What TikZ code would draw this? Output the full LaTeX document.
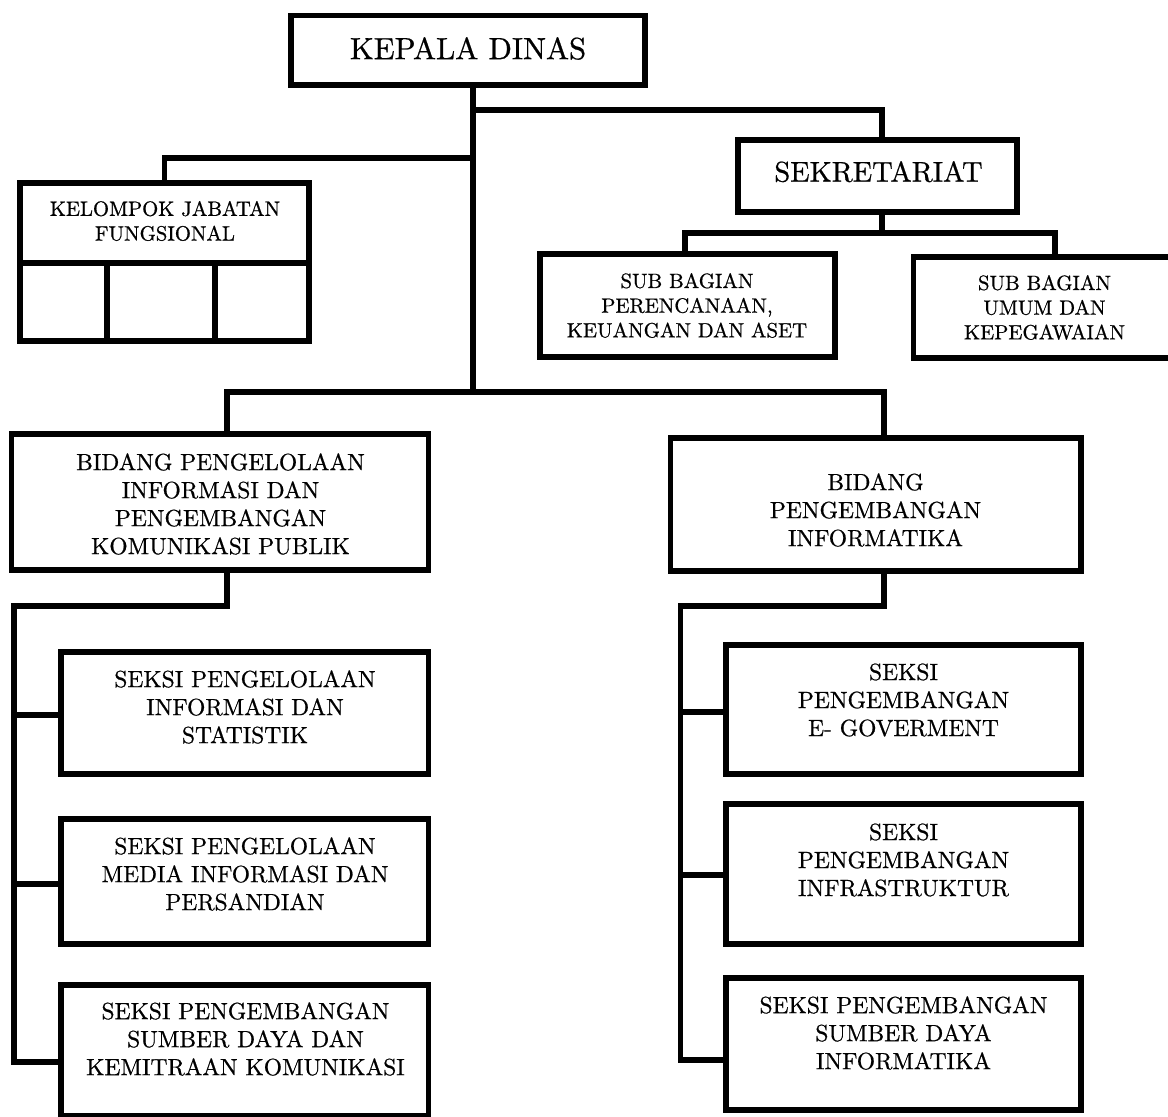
\documentclass[tikz,border=0pt]{standalone}
\usepackage{fontspec}
\setmainfont{lmroman10-regular}[Extension=.otf,FakeBold=0.7]
\begin{document}
\begin{tikzpicture}[x=1pt,y=-1pt,
  boxs/.style={draw=black,line width=5.5pt,inner sep=0pt,rectangle,fill=none},
  conn/.style={draw=black,line width=5.5pt,line cap=rect},
  txtbig/.style={inner sep=0pt,align=center,font=\fontsize{30.7}{36}\selectfont},
  txtsek/.style={inner sep=0pt,align=center,font=\fontsize{28.5}{34}\selectfont},
  txtmid/.style={inner sep=0pt,align=center,font=\fontsize{23.5}{28}\selectfont},
  txtsmall/.style={inner sep=0pt,align=center,font=\fontsize{20.7}{24.7}\selectfont}]
\clip (0,0) rectangle (1168,1117);
\fill[white] (0,0) rectangle (1168,1117);

% boxes: centre, width, height (line centres)
\node[boxs,minimum width=354pt,minimum height=69.5pt] (kd) at (468,50.25) {};
\node[boxs,minimum width=279pt,minimum height=72pt] (sek) at (877.5,176) {};
\node[boxs,minimum width=289pt,minimum height=80pt] (kjf) at (164.5,223) {};
\node[boxs,minimum width=87pt,minimum height=78pt] (kc1) at (63.5,302) {};
\node[boxs,minimum width=108pt,minimum height=78pt] (kc2) at (161,302) {};
\node[boxs,minimum width=94pt,minimum height=78pt] (kc3) at (262,302) {};
\node[boxs,minimum width=295pt,minimum height=103pt] (sbp) at (687.5,305.5) {};
\node[boxs,minimum width=261.4pt,minimum height=101pt] (sbu) at (1044.3,307.5) {};
\node[boxs,minimum width=417pt,minimum height=136pt] (bl) at (220,502) {};
\node[boxs,minimum width=410.5pt,minimum height=133pt] (br) at (875.75,504.5) {};
\node[boxs,minimum width=367.5pt,minimum height=122pt] (l1) at (244.75,713) {};
\node[boxs,minimum width=367.5pt,minimum height=125pt] (l2) at (244.75,881.5) {};
\node[boxs,minimum width=367.5pt,minimum height=131pt] (l3) at (244.75,1050.5) {};
\node[boxs,minimum width=355pt,minimum height=129pt] (r1) at (903.5,709.5) {};
\node[boxs,minimum width=355pt,minimum height=140pt] (r2) at (903.5,874) {};
\node[boxs,minimum width=355pt,minimum height=132pt] (r3) at (903.5,1044) {};

% texts
\node[txtbig] (tkd) at (468,48.5) {KEPALA DINAS};
\node[txtsek] (tsek) at (878.5,171.7) {SEKRETARIAT};
\node[txtsmall] (tkjf) at (165,221) {KELOMPOK JABATAN\\FUNGSIONAL};
\node[txtsmall] (tsbp) at (687,305.5) {SUB BAGIAN\\PERENCANAAN,\\KEUANGAN DAN ASET};
\node[txtsmall] (tsbu) at (1044.5,307.5) {SUB BAGIAN\\UMUM DAN\\KEPEGAWAIAN};
\node[txtmid] (tbl) at (220.5,504) {BIDANG PENGELOLAAN\\INFORMASI DAN\\PENGEMBANGAN\\KOMUNIKASI PUBLIK};
\node[txtmid] (tbr) at (875.5,510) {BIDANG\\PENGEMBANGAN\\INFORMATIKA};
\node[txtmid] (tl1) at (245,707) {SEKSI PENGELOLAAN\\INFORMASI DAN\\STATISTIK};
\node[txtmid] (tl2) at (245,874) {SEKSI PENGELOLAAN\\MEDIA INFORMASI DAN\\PERSANDIAN};
\node[txtmid] (tl3) at (245.5,1039) {SEKSI PENGEMBANGAN\\SUMBER DAYA DAN\\KEMITRAAN KOMUNIKASI};
\node[txtmid] (tr1) at (903.5,700) {SEKSI\\PENGEMBANGAN\\E- GOVERMENT};
\node[txtmid] (tr2) at (903.5,860) {SEKSI\\PENGEMBANGAN\\INFRASTRUKTUR};
\node[txtmid] (tr3) at (903.5,1033) {SEKSI PENGEMBANGAN\\SUMBER DAYA\\INFORMATIKA};

% junction coordinates
\coordinate (j1) at (473,392);
\coordinate (js) at (473,110);
\coordinate (jk) at (473,158);
\coordinate (s0) at (882,233);
\coordinate (lb) at (14,606);
\coordinate (rb) at (680.5,606);
\coordinate (l3b) at ([yshift=-11.5pt]l3.west);
\coordinate (r3b) at ([yshift=-16pt]r3.west);

% connectors
\draw[conn] (kd.south -| j1) -- (j1);
\draw[conn] (js) -| ([xshift=4.5pt]sek.north);
\draw[conn] (jk) -| (kjf.north);
\draw[conn] ([xshift=7pt]bl.north) |- (j1) -| ([xshift=8.25pt]br.north);
\draw[conn] ([xshift=4.5pt]sek.south) -- (s0);
\draw[conn] ([xshift=-2.5pt]sbp.north) |- (s0) -| ([xshift=10.7pt]sbu.north);
\draw[conn] ([xshift=7pt]bl.south) |- (lb) |- (l3b);
\draw[conn] ([yshift=-2pt]l1.west) -- ([yshift=-2pt]l1.west -| lb);
\draw[conn] ([yshift=-2.5pt]l2.west) -- ([yshift=-2.5pt]l2.west -| lb);
\draw[conn] ([xshift=8.25pt]br.south) |- (rb) |- (r3b);
\draw[conn] ([yshift=-2.5pt]r1.west) -- ([yshift=-2.5pt]r1.west -| rb);
\draw[conn] ([yshift=-1pt]r2.west) -- ([yshift=-1pt]r2.west -| rb);
\end{tikzpicture}
\end{document}
